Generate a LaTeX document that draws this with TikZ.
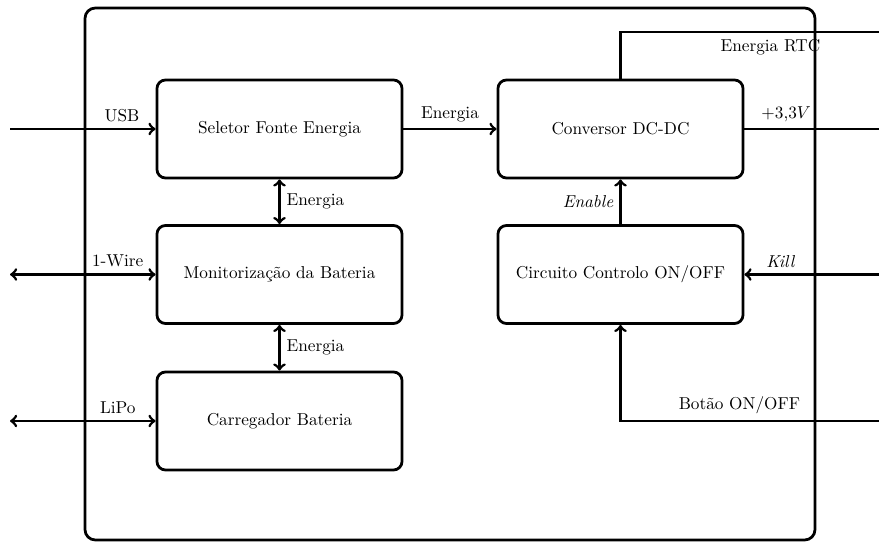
\documentclass[tikz,border=0pt]{standalone}
\usetikzlibrary{positioning}

\tikzset{
    bloco/.style={rectangle, draw, ultra thick, rounded corners=5pt, minimum height=2cm, minimum width=5cm, align=center},
    sinal/.style={ultra thick}
}

\begin{document}
\begin{tikzpicture}[
                            x=0.0204cm, y=-0.0204cm,
                            >=to
                        ]
                        \useasboundingbox (0,0) rectangle (879,543);
                        % Caixa exterior
                        \draw [ultra thick, rounded corners=6pt] (85,8) rectangle (815,540);

                        % Blocks
                        \node [bloco] (SEL) at (279.5,129) {Seletor Fonte Energia};
                        \node [bloco] (MON) at (279.5,274.5) {Monitorização da Bateria};
                        \node [bloco] (CAR) at (279.5,421) {Carregador Bateria};
                        \node [bloco] (DCDC) at (620.5,129) {Conversor DC-DC};
                        \node [bloco] (CTRL) at (620.5,274.5) {Circuito Controlo ON/OFF};

                        % Entradas / saidas
                        \coordinate (usb) at (10,129);
                        \coordinate (wire) at (10,274.5);
                        \coordinate (lipo) at (10,421);
                        \coordinate (rtc) at (879,32);
                        \coordinate (vout) at (879,129);
                        \coordinate (kill) at (879,274.5);
                        \coordinate (botao) at (879,421);

                        % Connections
                        \draw [sinal,->] (usb) --node[above,pos=0.77]{USB} (SEL);
                        \draw [sinal,<->] (wire) --node[above,pos=0.74]{1-Wire} (MON);
                        \draw [sinal,<->] (lipo) --node[above,pos=0.74]{LiPo} (CAR);
                        \draw [sinal,->] (SEL) --node[above]{Energia} (DCDC);
                        \draw [sinal,<->] (SEL) --node[right]{Energia} (MON);
                        \draw [sinal,<->] (MON) --node[right]{Energia} (CAR);
                        \draw [sinal] (DCDC.north) |- node[below left,pos=0.9]{Energia RTC} (rtc);
                        \draw [sinal] (DCDC) --node[above,pos=0.31]{+3,3$V$} (vout);
                        \draw [sinal,->] (CTRL) --node[left]{\textit{Enable}} (DCDC);
                        \draw [sinal,->] (kill) --node[above,pos=0.73]{\textit{Kill}} (CTRL);
                        \draw [sinal,->] (botao) -| node[above,pos=0.27]{Botão ON/OFF} (CTRL.south);
                    \end{tikzpicture}
\end{document}
